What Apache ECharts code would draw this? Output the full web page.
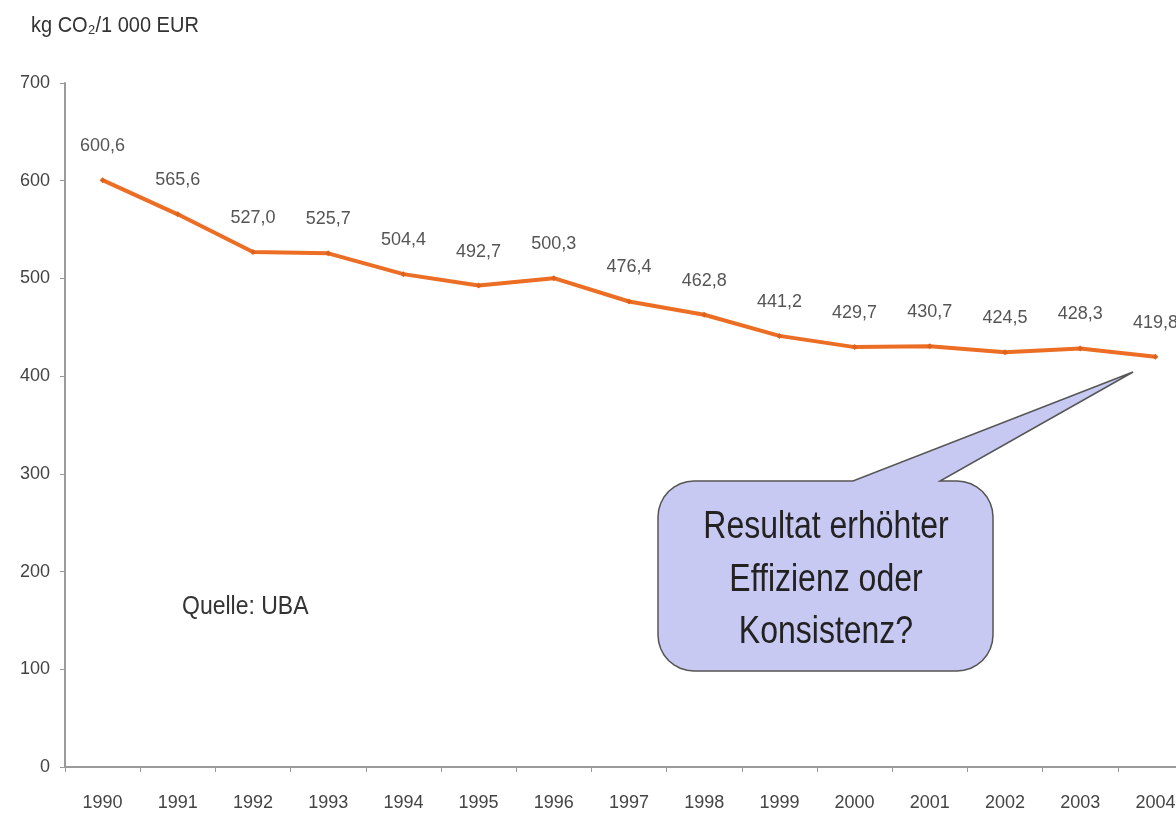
<!DOCTYPE html>
<html>
<head>
<meta charset="utf-8">
<script src="https://cdn.jsdelivr.net/npm/echarts@6/dist/echarts.min.js"></script>
<style>
  html, body { margin: 0; padding: 0; background: #fff; }
  #chart { width: 1176px; height: 817px; }
</style>
</head>
<body>
<div id="chart"></div>
<script type="text/javascript">
// CO2 per 1000 EUR, Germany (UBA)
var years = ['1990', '1991', '1992', '1993', '1994', '1995', '1996', '1997',
             '1998', '1999', '2000', '2001', '2002', '2003', '2004'];
var values = [600.6, 565.6, 527.0, 525.7, 504.4, 492.7, 500.3, 476.4,
              462.8, 441.2, 429.7, 430.7, 424.5, 428.3, 419.8];
var yTicks = [0, 100, 200, 300, 400, 500, 600, 700];

var font = '"Liberation Sans", Arial, sans-serif';
var chart = echarts.init(document.getElementById('chart'));

// speech bubble outline: rounded box with a tail on the top edge
function bubble(x0, y0, x1, y1, r, tailL, tailR, tip) {
  var pts = [];
  function corner(cx, cy, a0) {
    for (var i = 0; i <= 8; i++) {
      var a = (a0 + i * 90 / 8) * Math.PI / 180;
      pts.push([cx + r * Math.cos(a), cy + r * Math.sin(a)]);
    }
  }
  corner(x0 + r, y0 + r, 180);          // top left
  pts.push([tailL, y0], tip, [tailR, y0]);
  corner(x1 - r, y0 + r, 270);          // top right
  corner(x1 - r, y1 - r, 0);            // bottom right
  corner(x0 + r, y1 - r, 90);           // bottom left
  return pts;
}

var option = {
  backgroundColor: '#ffffff',
  animation: false,
  // plot runs past the right edge, the last label is cut off
  grid: { left: 65, width: 1128, top: 83, bottom: 50, outerBoundsMode: 'none', containLabel: false },
  xAxis: {
    type: 'category',
    data: years,
    boundaryGap: true,
    axisLine: { lineStyle: { color: '#9a9a9a', width: 2 } },
    axisTick: { show: true, length: 5, lineStyle: { color: '#9a9a9a' } },
    axisLabel: { margin: 27, fontFamily: font, fontSize: 18, color: '#444' }
  },
  yAxis: {
    type: 'value',
    min: yTicks[0],
    max: yTicks[yTicks.length - 1],
    interval: 100,
    splitLine: { show: false },
    axisLine: { show: true, lineStyle: { color: '#9a9a9a', width: 2 } },
    axisTick: { show: true, length: 5, lineStyle: { color: '#9a9a9a' } },
    axisLabel: { margin: 15, fontFamily: font, fontSize: 18, color: '#444' }
  },
  series: [{
    type: 'line',
    data: values,
    symbol: 'diamond',
    symbolSize: 6,
    lineStyle: { color: '#ec6d24', width: 4 },
    itemStyle: { color: '#e0621a' },
    label: {
      show: true,
      position: 'top',
      distance: 22,
      fontFamily: font,
      fontSize: 18,
      color: '#555',
      formatter: function (p) { return p.value.toFixed(1).replace('.', ','); }
    }
  }],
  graphic: [
    {
      type: 'text',
      x: 31,
      y: 26,
      scaleY: 1.1,
      style: { text: 'kg CO\u2082/1 000 EUR', font: '20px ' + font, fill: '#333', verticalAlign: 'middle' }
    },
    {
      type: 'text',
      x: 182,
      y: 607,
      scaleY: 1.15,
      style: { text: 'Quelle: UBA', font: '23px ' + font, fill: '#333', verticalAlign: 'middle' }
    },
    {
      type: 'polygon',
      shape: { points: bubble(658, 481, 993, 671, 36, 853, 940, [1133, 372]) },
      style: { fill: '#c8c9f3', stroke: '#555', lineWidth: 1.5 },
      z: 10
    },
    {
      type: 'text',
      x: 826,
      y: 580,
      scaleY: 1.2,
      z: 11,
      style: {
        text: 'Resultat erhöhter\nEffizienz oder\nKonsistenz?',
        font: '32px ' + font,
        fill: '#222',
        align: 'center',
        verticalAlign: 'middle',
        lineHeight: 44
      }
    }
  ]
};

chart.setOption(option);
</script>
</body>
</html>
